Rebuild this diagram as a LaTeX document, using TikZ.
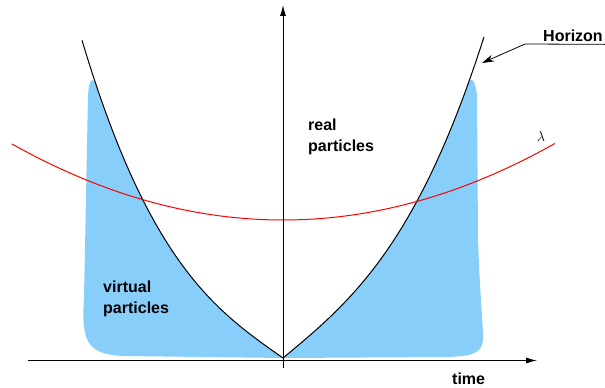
\documentclass[tikz,border=0pt]{standalone}
\usepackage{fontspec}
\setsansfont{Liberation Sans}
\usetikzlibrary{arrows.meta}
\definecolor{skyfill}{RGB}{135,206,250}
\begin{document}
\begin{tikzpicture}[x=1pt,y=1pt,
  lbl/.style={font=\sffamily\bfseries\fontsize{16}{21}\selectfont, inner sep=0pt, align=left},
  region/.style={fill=skyfill},
  axis/.style={line width=0.9pt, -{Latex[length=11pt,width=6pt]}},
  horizon/.style={line width=1pt}]
\useasboundingbox (-283,-30) rectangle (322,358);

% virtual particle regions
\fill[region] (0,0) -- plot[domain=0:186,samples=60] ({-\x},{0.7*\x+21.8*(\x/100)^3})
  .. controls (-189,281) and (-194,282) .. (-195,262) -- (-199,60)
  .. controls (-202,15) and (-195,4) .. (-160,2) -- cycle;
\fill[region] (0,0) -- plot[domain=0:184,samples=60] ({\x},{0.83*\x+19*(\x/100)^3})
  .. controls (186,281) and (192,283) .. (194,262) -- (195,120)
  .. controls (197,60) and (200,35) .. (200,20)
  .. controls (200,5) and (190,2) .. (165,1) -- cycle;

% horizon
\draw[horizon] plot[domain=0:201,samples=80] ({-\x},{0.7*\x+21.8*(\x/100)^3});
\draw[horizon] plot[domain=0:201,samples=80] ({\x},{0.83*\x+19*(\x/100)^3});

% lambda
\draw[red,line width=1pt] plot[domain=-271:272,samples=80] (\x,{138+0.1035*(\x/10)^2});
\node[font=\fontsize{14}{16}\selectfont] (lam) at (258,221) {$\lambda$};

% axes
\coordinate (tstart) at (-255,-2.5);
\coordinate (tend) at (254,-2.5);
\coordinate (ybot) at (0,-10);
\coordinate (ytop) at (0,353);
\draw[axis] (tstart) -- (tend);
\draw[axis] (ybot) -- (ytop);

\node[lbl, anchor=north west] (real) at (25,239.5) {real\\particles};
\node[lbl, anchor=north west] (virt) at (-180,77.7) {virtual\\particles};
\node[lbl, anchor=base west] (time) at (169,-26) {time};

\node[lbl, inner sep=2pt, anchor=base west] (hor) at (258,316) {Horizon};
\coordinate (knee) at (242,314);
\coordinate (htip) at (199,295);
\draw[line width=0.8pt, -{Stealth[length=12pt,width=7pt]}] (hor.south east) -- (knee) -- (htip);
\end{tikzpicture}
\end{document}
